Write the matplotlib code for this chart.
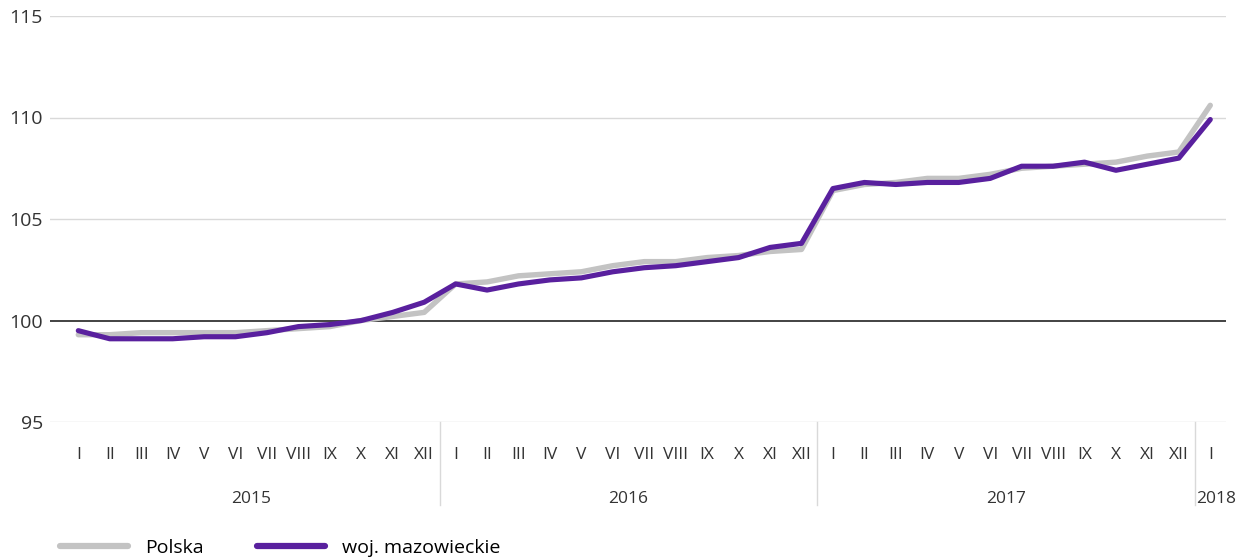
import numpy as np
import matplotlib.pyplot as plt
from matplotlib.lines import Line2D

plt.rcParams['font.family'] = ['Open Sans', 'DejaVu Sans']

months = ["I", "II", "III", "IV", "V", "VI", "VII", "VIII", "IX", "X", "XI", "XII"]
years = ["2015", "2016", "2017", "2018"]
month_labels = months * 3 + ["I"]

# Polska
polska = [99.3, 99.3, 99.4, 99.4, 99.4, 99.4, 99.5, 99.6, 99.7, 100.0, 100.2, 100.4,
          101.8, 101.9, 102.2, 102.3, 102.4, 102.7, 102.9, 102.9, 103.1, 103.2, 103.4, 103.5,
          106.4, 106.7, 106.8, 107.0, 107.0, 107.2, 107.5, 107.6, 107.7, 107.8, 108.1, 108.3,
          110.6]
# woj. mazowieckie
mazowieckie = [99.5, 99.1, 99.1, 99.1, 99.2, 99.2, 99.4, 99.7, 99.8, 100.0, 100.4, 100.9,
               101.8, 101.5, 101.8, 102.0, 102.1, 102.4, 102.6, 102.7, 102.9, 103.1, 103.6, 103.8,
               106.5, 106.8, 106.7, 106.8, 106.8, 107.0, 107.6, 107.6, 107.8, 107.4, 107.7, 108.0,
               109.9]

x = np.arange(len(month_labels))

fig = plt.figure(figsize=(12.47, 5.59), dpi=100)
ax = fig.add_axes([50 / 1247, 1 - 422 / 559, 1176 / 1247, 406 / 559])

for v in [95, 105, 110, 115]:
    ax.axhline(v, color='#d9d9d9', lw=1.0, zorder=1)
ax.axhline(100, color='#222222', lw=1.2, zorder=1)

ax.plot(x, polska, color='#c3c3c3', lw=3.9, solid_capstyle='round', zorder=3)
ax.plot(x, mazowieckie, color='#59209e', lw=3.7, solid_capstyle='round', zorder=4)

ax.set_xlim(-0.9, 36.5)
ax.set_ylim(95, 115)
ax.set_yticks([95, 100, 105, 110, 115])
ax.set_xticks(x)
ax.set_xticklabels(month_labels)
ax.tick_params(axis='x', length=0, pad=18, labelsize=12.5, colors='#333333')
ax.tick_params(axis='y', length=0, pad=5, labelsize=14, colors='#333333')
for s in ax.spines.values():
    s.set_visible(False)

# year group labels and separators
trans = ax.get_xaxis_transform()
year_pos = [5.5, 17.5, 29.5, 36.2]
for pos, yr in zip(year_pos, years):
    ax.text(pos, -0.19, yr, transform=trans, ha='center', va='center',
            fontsize=12.5, color='#333333')
for sep in [11.5, 23.5, 35.5]:
    ax.plot([sep, sep], [0, -0.205], transform=trans, color='#d9d9d9', lw=1.0, clip_on=False)

handles = [Line2D([], [], color='#c3c3c3', lw=4.5, solid_capstyle='round'),
           Line2D([], [], color='#59209e', lw=4.5, solid_capstyle='round')]
fig.legend(handles, ["Polska", "woj. mazowieckie"], loc='center left',
           bbox_to_anchor=(60 / 1247, 1 - 548 / 559), ncol=2, frameon=False,
           fontsize=14, handlelength=3.5, columnspacing=2.7, handletextpad=0.9,
           borderpad=0, borderaxespad=0)

fig.savefig('out.png', dpi=100)
